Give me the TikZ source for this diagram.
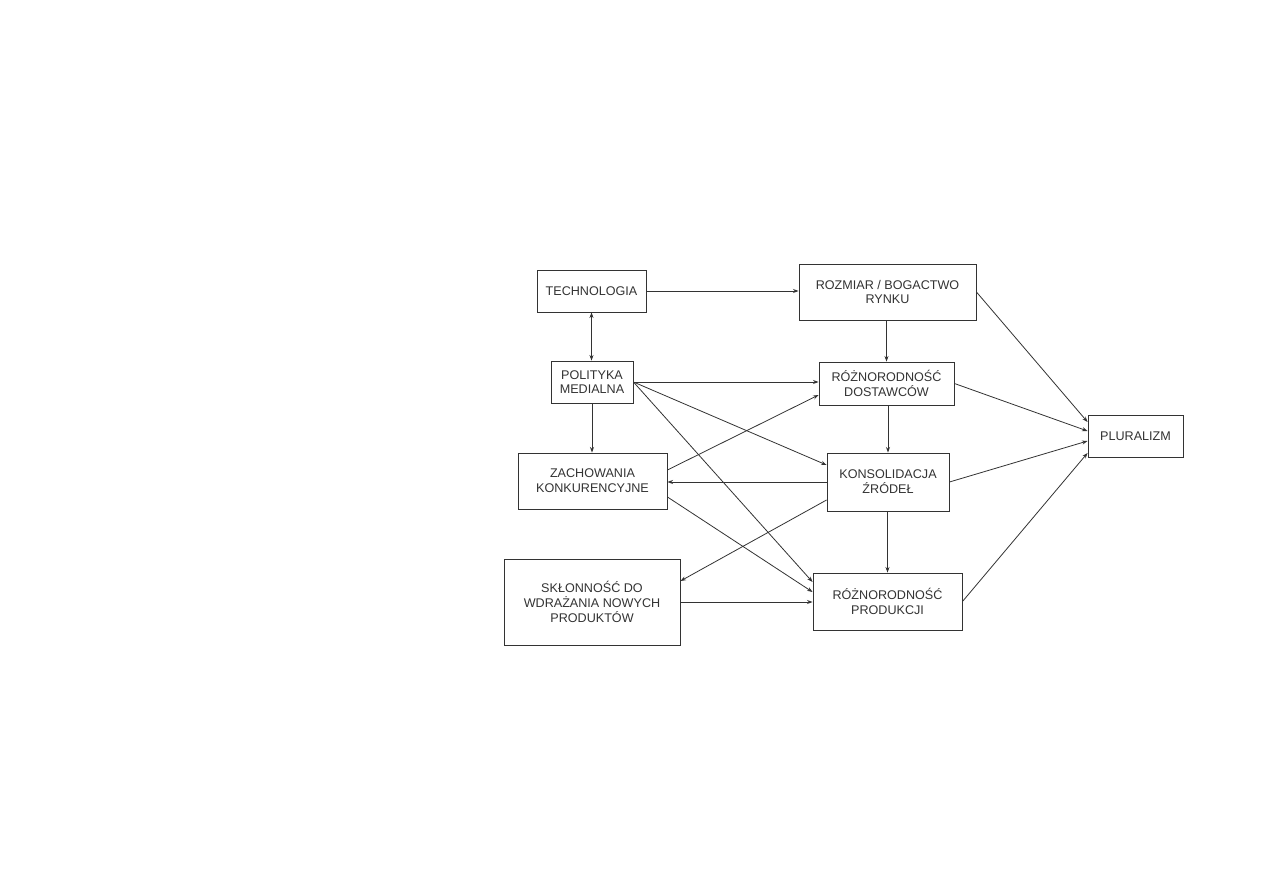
\documentclass[tikz,border=0pt]{standalone}
\usepackage{fontspec}
\setmainfont{Liberation Sans}
\usetikzlibrary{arrows.meta}
\definecolor{ink}{HTML}{333333}
\tikzset{
  box/.style={draw=ink, line width=0.9pt, rectangle, align=center, inner sep=0pt,
    font=\fontsize{12.6pt}{14.8pt}\selectfont, text=ink},
  conn/.style={draw=ink, line width=0.8pt, -{Stealth[length=5.5pt,width=4pt]}},
  biconn/.style={draw=ink, line width=0.8pt, {Stealth[length=5.5pt,width=4pt]}-{Stealth[length=5.5pt,width=4pt]}}
}
\begin{document}
\begin{tikzpicture}[x=1pt,y=-1pt]
\useasboundingbox (0,0) rectangle (1263,893);
\fill[white] (0,0) rectangle (1263,893);

\node[box, minimum width=109pt, minimum height=42pt] (tech) at (591.5,291) {TECHNOLOGIA};
\node[box, minimum width=82pt, minimum height=42pt] (pol) at (592,382) {POLITYKA\\MEDIALNA};
\node[box, minimum width=177pt, minimum height=56pt] (rozm) at (887.5,292) {ROZMIAR / BOGACTWO\\RYNKU};
\node[box, minimum width=135pt, minimum height=43pt] (dost) at (886.5,383.5) {RÓŻNORODNOŚĆ\\DOSTAWCÓW};
\node[box, minimum width=149pt, minimum height=56pt] (zach) at (592.5,481) {ZACHOWANIA\\KONKURENCYJNE};
\node[box, minimum width=122pt, minimum height=58pt] (kons) at (888,482) {KONSOLIDACJA\\ŹRÓDEŁ};
\node[box, minimum width=95pt, minimum height=42pt] (plur) at (1135.5,436) {PLURALIZM};
\node[box, minimum width=176pt, minimum height=86pt] (skl) at (592,602) {SKŁONNOŚĆ DO\\WDRAŻANIA NOWYCH\\PRODUKTÓW};
\node[box, minimum width=149pt, minimum height=57pt] (prod) at (887.5,601.5) {RÓŻNORODNOŚĆ\\PRODUKCJI};

% left column
\draw[conn] (tech.east) -- (tech.east -| rozm.west);
\draw[biconn] (tech.south) -- (tech.south |- pol.north);
\draw[conn] (pol.south) -- (pol.south |- zach.north);

% from polityka
\draw[conn] (pol.east) -- (pol.east -| dost.west);
\draw[conn] (pol.east) -- ([yshift=17pt]kons.west);
\draw[conn] (pol.east) -- ([yshift=19.5pt]prod.west);

% zachowania
\draw[conn] ([yshift=11pt]zach.east) -- ([yshift=-11.5pt]dost.west);
\draw[conn] ([yshift=-16pt]zach.east) -- ([yshift=9.5pt]prod.west);
\draw[conn] (kons.west) -- (kons.west -| zach.east);
\draw[conn] ([yshift=-18pt]kons.west) -- ([yshift=21pt]skl.east);
\draw[conn] (skl.east) -- (skl.east -| prod.west);

% middle column
\draw[conn] (rozm.south -| dost.north) -- (dost.north);
\draw[conn] (dost.south -| kons.north) -- (kons.north);
\draw[conn] (kons.south -| prod.north) -- (prod.north);

% to pluralizm
\draw[conn] (rozm.east) -- ([yshift=14pt]plur.west);
\draw[conn] (dost.east) -- ([yshift=5pt]plur.west);
\draw[conn] (kons.east) -- ([yshift=-5pt]plur.west);
\draw[conn] (prod.east) -- ([yshift=-17pt]plur.west);
\end{tikzpicture}
\end{document}
